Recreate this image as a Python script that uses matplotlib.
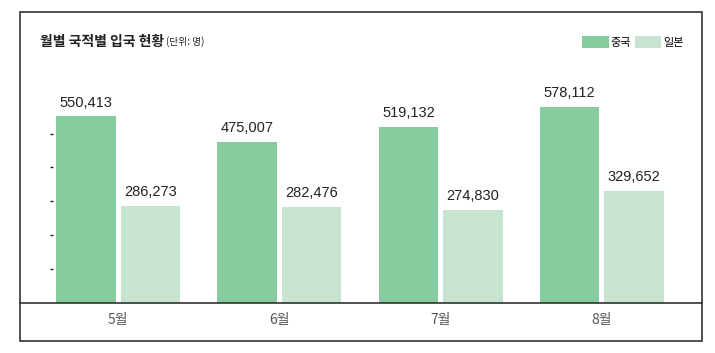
import matplotlib.pyplot as plt
from matplotlib.patches import Rectangle
import numpy as np

plt.rcParams['font.family'] = ['Noto Sans CJK KR', 'DejaVu Sans']

months = ["5월", "6월", "7월", "8월"]
china = [550413, 475007, 519132, 578112]
japan = [286273, 282476, 274830, 329652]

W, H = 715, 353
fig = plt.figure(figsize=(W / 100, H / 100), dpi=100)

# cadre extérieur
fig.patches.append(Rectangle((20 / W, 12 / H), 682 / W, 329 / H, transform=fig.transFigure,
                             fill=False, edgecolor="#222222", linewidth=1.1))

ax = fig.add_axes([20 / W, (H - 303) / H, 682 / W, 242 / H])
x = np.arange(len(months))
b1 = ax.bar(x - 0.2, china, width=0.37, color="#86CC9E", label="중국")
b2 = ax.bar(x + 0.2, japan, width=0.37, color="#C6E4D0", label="일본")

num_font = dict(fontsize=10.5, color="#222222", family="Liberation Sans")
ax.bar_label(b1, labels=[f"{v:,}" for v in china], padding=5, **num_font)
ax.bar_label(b2, labels=[f"{v:,}" for v in japan], padding=5, **num_font)

ax.set_xlim(-0.609, 3.621)
ax.set_ylim(0, 714000)
ax.set_xticks(x)
ax.set_xticklabels(months, fontsize=10, color="#555555")
ax.tick_params(axis="x", length=0, pad=7)
ax.set_yticks([])
for s in ["top", "right", "left"]:
    ax.spines[s].set_visible(False)
ax.spines["bottom"].set_linewidth(1.1)
ax.spines["bottom"].set_color("#222222")

# petites graduations à gauche
sec = ax.secondary_yaxis(33 / 682)
sec.set_yticks([100000, 200000, 300000, 400000, 500000])
sec.set_yticklabels([])
sec.tick_params(length=2, width=1, color="#222222", direction="out")
sec.spines["left"].set_visible(False)

fig.text(40 / W, 1 - 42 / H, "월별 국적별 입국 현황", fontsize=10, fontweight="bold",
         va="center", ha="left", color="#222222")
fig.text(166 / W, 1 - 42 / H, "(단위: 명)", fontsize=7, va="center", ha="left", color="#222222")

fig.legend(handles=[b1, b2], loc="center right", bbox_to_anchor=(684 / W, 1 - 42 / H),
           ncol=2, frameon=False, fontsize=8, handlelength=2.4, handleheight=1.3,
           handletextpad=0.2, columnspacing=0.3, borderpad=0, borderaxespad=0)

fig.savefig("out.png", dpi=100)
